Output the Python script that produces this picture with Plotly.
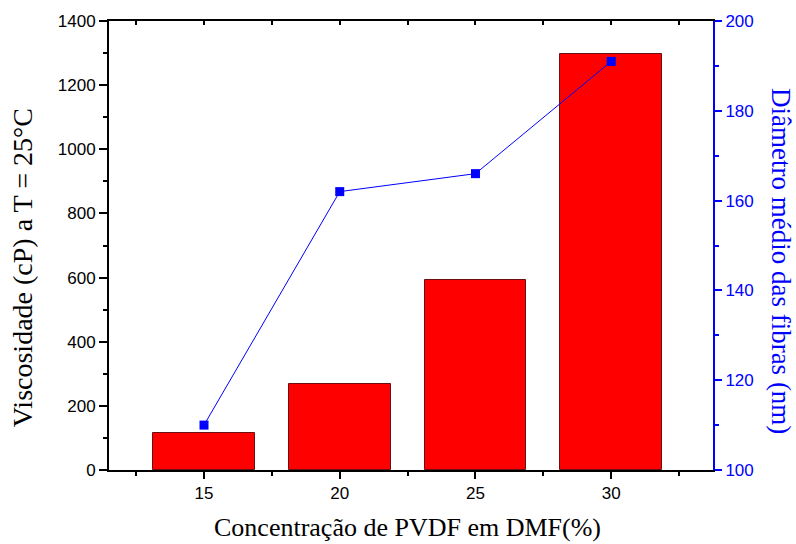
import plotly.graph_objects as go

concentracao = [15, 20, 25, 30]
viscosidade = [116, 268, 592, 1298]
diametro = [110, 162, 166, 191]

x_title = "Concentração de PVDF em DMF(%)"
y_title = "Viscosidade (cP) a T = 25°C"
y2_title = "Diâmetro médio das fibras (nm)"

fig = go.Figure()
fig.add_trace(go.Bar(x=concentracao, y=viscosidade, width=3.75,
                     marker=dict(color="#FF0000", line=dict(color="#6b1010", width=1)),
                     showlegend=False))
fig.add_trace(go.Scatter(x=concentracao, y=diametro, yaxis="y2", mode="lines+markers",
                         line=dict(color="#0000FF", width=1),
                         marker=dict(symbol="square", size=9, color="#0000FF"),
                         showlegend=False))
# invisible trace to display top mirror axis
fig.add_trace(go.Scatter(x=[concentracao[0]], y=[viscosidade[0]], xaxis="x2", mode="markers",
                         marker=dict(opacity=0), showlegend=False, hoverinfo="skip"))

serif = "Liberation Serif, Times New Roman"
tickfont = dict(family="Liberation Sans, Arial", size=17, color="black")
fig.update_layout(
    width=796, height=544,
    margin=dict(l=109, r=83, t=18, b=74),
    plot_bgcolor="white", paper_bgcolor="white",
    bargap=0,
    xaxis=dict(range=[11.5, 33.75], tickmode="array", tickvals=concentracao,
               ticks="outside", ticklen=7, tickwidth=1.5, tickcolor="black",
               showline=True, linecolor="black", linewidth=2, showgrid=False, zeroline=False,
               tickfont=tickfont,
               minor=dict(tickmode="array", tickvals=[12.5, 17.5, 22.5, 27.5, 32.5],
                          ticks="outside", ticklen=4, tickcolor="black", tickwidth=1.5)),
    xaxis2=dict(range=[11.5, 33.75], overlaying="x", side="top", anchor="y",
                showticklabels=False, ticks="inside", ticklen=4, tickwidth=1.5, tickcolor="black",
                tickmode="array", tickvals=[12.5, 15, 17.5, 20, 22.5, 25, 27.5, 30, 32.5],
                showline=True, linecolor="black", linewidth=2, showgrid=False, zeroline=False),
    yaxis=dict(range=[0, 1400], dtick=200, ticks="outside", ticklen=8, tickwidth=1.5,
               tickcolor="black", showline=True, linecolor="black", linewidth=2,
               showgrid=False, zeroline=False, tickfont=tickfont,
               minor=dict(dtick=100, ticks="outside", ticklen=4, tickcolor="black", tickwidth=1.5)),
    yaxis2=dict(range=[100, 200], dtick=20, overlaying="y", side="right", anchor="x",
                ticks="outside", ticklen=7, tickwidth=1.5, tickcolor="#0000FF",
                showline=True, linecolor="#0000FF", linewidth=2, showgrid=False, zeroline=False,
                tickfont=dict(family="Liberation Sans, Arial", size=17, color="#0000FF"),
                minor=dict(dtick=10, ticks="outside", ticklen=4, tickcolor="#0000FF", tickwidth=1.5)),
    annotations=[
        dict(text=y2_title, textangle=90,
             xref="paper", yref="paper", x=1.113, y=0.465, xanchor="center", yanchor="middle",
             showarrow=False, font=dict(family=serif, size=27, color="#0000FF")),
        dict(text=y_title, textangle=-90,
             xref="paper", yref="paper", x=-0.142, y=0.45, xanchor="center", yanchor="middle",
             showarrow=False, font=dict(family=serif, size=28, color="black")),
        dict(text=x_title,
             xref="paper", yref="paper", x=0.494, y=-0.128, xanchor="center", yanchor="middle",
             showarrow=False, font=dict(family=serif, size=26, color="black")),
    ],
)

fig.write_html("out.html")
